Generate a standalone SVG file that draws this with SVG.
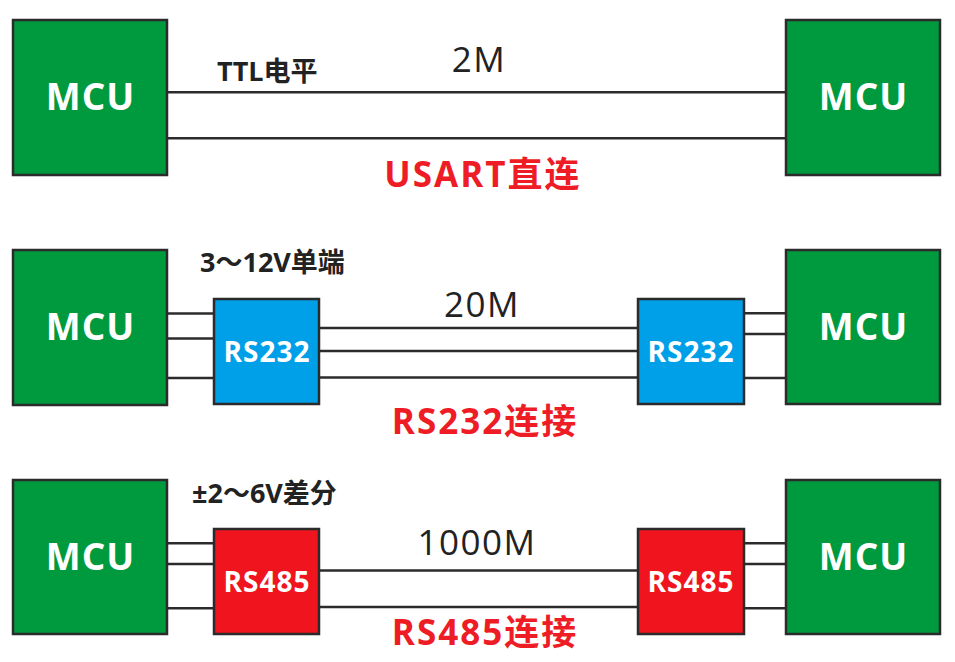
<svg xmlns="http://www.w3.org/2000/svg" width="955" height="662" viewBox="0 0 955 662">
<style>
.mcu{fill:#009a3e;stroke:#2b2b2b;stroke-width:2.5}
.b232{fill:#00a0e9;stroke:#2b2b2b;stroke-width:2.5}
.b485{fill:#f0141e;stroke:#2b2b2b;stroke-width:2.5}
.ln{stroke:#2b2b2b;stroke-width:2.5;fill:none}
.t{font-family:"Open Sans","Noto Sans CJK SC",sans-serif}
.mt{font-size:37px;font-weight:bold;fill:#ffffff;text-anchor:middle;letter-spacing:1px}
.ct{font-size:28px;font-weight:bold;fill:#ffffff;text-anchor:middle;letter-spacing:1px}
.sp{font-size:35px;fill:#222222;text-anchor:middle;letter-spacing:1.5px}
.lv{font-size:27px;font-weight:bold;fill:#222222}
.ti{font-size:35px;font-weight:bold;fill:#ee1c25;text-anchor:middle;letter-spacing:2px}
</style>
<rect width="955" height="662" fill="#ffffff"/>
<g id="connectors">
<line class="ln" x1="167" y1="92.3" x2="786" y2="92.3"/>
<line class="ln" x1="167" y1="138.3" x2="786" y2="138.3"/>
<line class="ln" x1="167" y1="313.5" x2="214" y2="313.5"/>
<line class="ln" x1="167" y1="338.5" x2="214" y2="338.5"/>
<line class="ln" x1="167" y1="378" x2="214" y2="378"/>
<line class="ln" x1="319" y1="328" x2="638" y2="328"/>
<line class="ln" x1="319" y1="351" x2="638" y2="351"/>
<line class="ln" x1="319" y1="377.5" x2="638" y2="377.5"/>
<line class="ln" x1="744" y1="313.3" x2="786" y2="313.3"/>
<line class="ln" x1="744" y1="334" x2="786" y2="334"/>
<line class="ln" x1="744" y1="378" x2="786" y2="378"/>
<line class="ln" x1="167" y1="543.3" x2="214" y2="543.3"/>
<line class="ln" x1="167" y1="564" x2="214" y2="564"/>
<line class="ln" x1="167" y1="608.3" x2="214" y2="608.3"/>
<line class="ln" x1="319" y1="570.5" x2="638" y2="570.5"/>
<line class="ln" x1="319" y1="607" x2="638" y2="607"/>
<line class="ln" x1="744" y1="543.3" x2="786" y2="543.3"/>
<line class="ln" x1="744" y1="564" x2="786" y2="564"/>
<line class="ln" x1="744" y1="608.3" x2="786" y2="608.3"/>
</g>
<g id="mcu1l"><rect class="mcu" x="13" y="20" width="154" height="155"/><text class="t mt" x="90.5" y="110">MCU</text></g>
<g id="mcu1r"><rect class="mcu" x="786" y="20" width="154" height="155"/><text class="t mt" x="863.5" y="110">MCU</text></g>
<g id="mcu2l"><rect class="mcu" x="13" y="250" width="154" height="155"/><text class="t mt" x="90.5" y="340">MCU</text></g>
<g id="mcu2r"><rect class="mcu" x="786" y="250" width="154" height="154"/><text class="t mt" x="863.5" y="340">MCU</text></g>
<g id="mcu3l"><rect class="mcu" x="13" y="480" width="154" height="154"/><text class="t mt" x="90.5" y="570">MCU</text></g>
<g id="mcu3r"><rect class="mcu" x="786" y="480" width="154" height="154"/><text class="t mt" x="863.5" y="570">MCU</text></g>
<g id="rs232l"><rect class="b232" x="214" y="299" width="105" height="105"/><text class="t ct" x="267" y="361.5">RS232</text></g>
<g id="rs232r"><rect class="b232" x="638" y="299" width="106" height="105"/><text class="t ct" x="691" y="361.5">RS232</text></g>
<g id="rs485l"><rect class="b485" x="214" y="529" width="105" height="105"/><text class="t ct" x="267" y="591.5">RS485</text></g>
<g id="rs485r"><rect class="b485" x="638" y="529" width="106" height="105"/><text class="t ct" x="691" y="591.5">RS485</text></g>
<g id="labels">
<text class="t lv" x="217" y="81">TTL电平</text>
<text class="t sp" x="479" y="71.5">2M</text>
<text class="t ti" x="483" y="186.5">USART直连</text>
<text class="t lv" x="200" y="271.5">3～12V单端</text>
<text class="t sp" x="482" y="316.5">20M</text>
<text class="t ti" x="485" y="433.5">RS232连接</text>
<text class="t lv" x="192" y="503">±2～6V差分</text>
<text class="t sp" x="477" y="555">1000M</text>
<text class="t ti" x="485" y="645">RS485连接</text>
</g>
</svg>
